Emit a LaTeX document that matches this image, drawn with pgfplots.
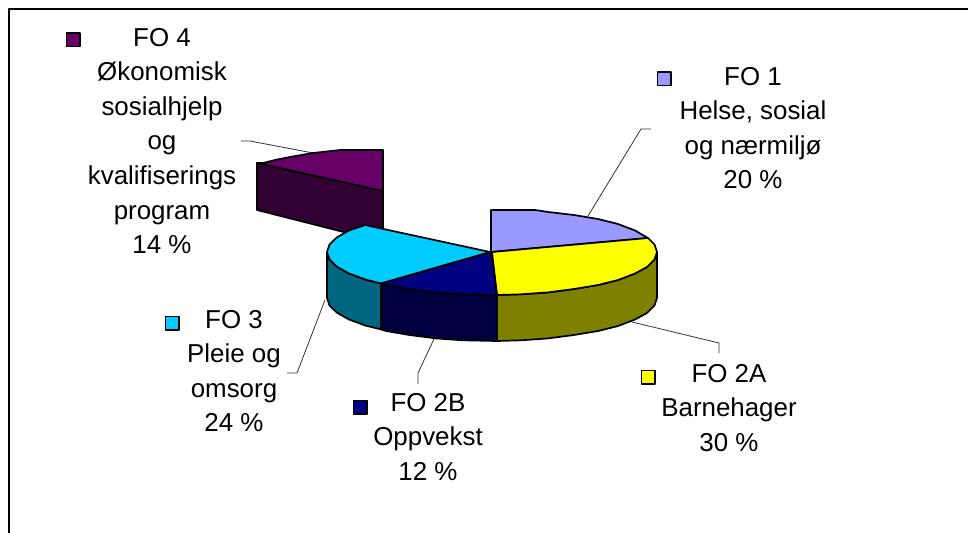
\documentclass[border=0pt]{standalone}
\usepackage{fontspec}
\setmainfont{Liberation Sans}
\usepackage{pgfplots}
\pgfplotsset{compat=1.18}
\definecolor{pblue}{HTML}{9999FF}
\definecolor{pyellow}{HTML}{FFFF00}
\definecolor{polive}{HTML}{808000}
\definecolor{pnavy}{HTML}{000080}
\definecolor{pdnavy}{HTML}{000040}
\definecolor{pcyan}{HTML}{00CCFF}
\definecolor{pteal}{HTML}{006680}
\definecolor{ppurple}{HTML}{660066}
\definecolor{pdpurple}{HTML}{330033}
\begin{document}
\begin{tikzpicture}
\useasboundingbox (0,0) rectangle (968bp,533bp);
\begin{axis}[
  at={(0,0)}, anchor=south west,
  width=968bp, height=533bp, scale only axis,
  xmin=0, xmax=968, ymin=0, ymax=533, y dir=reverse,
  axis lines=none, clip=true,
  every axis plot/.append style={line join=round},
]
% frame
\addplot[black, line width=1.8bp] coordinates {(9,533) (9,9) (968,9)};
% leader lines
\addplot[black!80, line width=0.8bp] coordinates {(588,216) (641,129) (651,129)};
\addplot[black!80, line width=0.8bp] coordinates {(632,322) (719,343) (719,353)};
\addplot[black!80, line width=0.8bp] coordinates {(434,339) (418,373) (418,384)};
\addplot[black!80, line width=0.8bp] coordinates {(325,300) (297,373) (287,373)};
\addplot[black!80, line width=0.8bp] coordinates {(241,141) (250,141) (313,153)};
% FO 4 exploded slice
\addplot[draw=black, line width=1.7bp, fill=pdpurple] coordinates {(383,191) (257,163) (257,210) (383,242) (383,191)};
\addplot[draw=black, line width=1.7bp, fill=ppurple] coordinates {(383,191) (257,163) (263,163) (275,160) (290,157) (313,153) (340,150) (383,150) (383,191)};
% side walls
\addplot[draw=black, line width=1.7bp, fill=pteal] coordinates {(327,252) (329.5,259.5) (337,266.7) (349,273.5) (365.6,279.6) (381,283.4) (381,329.4) (365.6,325.6) (349,319.5) (337,312.7) (329.5,305.5) (327,298) (327,252)};
\addplot[draw=black, line width=1.7bp, fill=pdnavy] coordinates {(381,283.4) (386,285) (409.5,289) (436,292.4) (463,294.3) (497,295) (497,341) (463,340.3) (436,338.4) (409.5,335) (386,331) (381,329.4) (381,283.4)};
\addplot[draw=black, line width=1.7bp, fill=polive] coordinates {(497,295) (521,294.3) (548,292.4) (574,289) (598,285) (618,280) (635,273.5) (647,267) (654.5,259.5) (657,252) (657,298) (654.5,305.5) (647,313) (635,319.5) (618,326) (598,331) (574,335) (548,338.4) (521,340.3) (497,341) (497,295)};
% top faces
\addplot[draw=black, line width=1.7bp, fill=pblue] coordinates {(491,252) (491,210) (535,210) (548,212) (574,215) (598,219) (618,224) (635,230.5) (648,238) (491,252)};
\addplot[draw=black, line width=1.7bp, fill=pyellow] coordinates {(492,252) (648,238) (654.5,244.5) (657,252) (654.5,259.5) (647,267) (635,273.5) (618,280) (598,285) (574,289) (548,292.4) (521,294.3) (497,295) (492,252)};
\addplot[draw=black, line width=1.7bp, fill=pnavy] coordinates {(491,252) (497,295) (463,294.3) (436,292.4) (409.5,289) (386,285) (381,283.4) (491,252)};
\addplot[draw=black, line width=1.7bp, fill=pcyan] coordinates {(490,252) (381,283.4) (365.6,279.6) (349,273.5) (337,266.7) (329.5,259.5) (327,252) (329.5,244.5) (337,237.3) (349,230.5) (365,225) (490,252)};
% legend keys
\addplot[only marks, mark=square*, mark size=6.8bp, mark options={fill=ppurple, draw=black, line width=1.4bp}] coordinates {(73,40)};
\addplot[only marks, mark=square*, mark size=6.8bp, mark options={fill=pblue, draw=black, line width=1.4bp}] coordinates {(664,79)};
\addplot[only marks, mark=square*, mark size=6.8bp, mark options={fill=pyellow, draw=black, line width=1.4bp}] coordinates {(648,377)};
\addplot[only marks, mark=square*, mark size=6.8bp, mark options={fill=pnavy, draw=black, line width=1.4bp}] coordinates {(360,407)};
\addplot[only marks, mark=square*, mark size=6.8bp, mark options={fill=pcyan, draw=black, line width=1.4bp}] coordinates {(172,323)};
% labels
\tikzset{lab/.style={align=center, inner sep=0pt, text=black, font=\fontsize{26}{34.7}\selectfont}}
\node[lab] at (axis cs:162,141) {FO 4\\Økonomisk\\sosialhjelp\\og\\kvalifiserings\\program\\14 \%};
\node[lab] at (axis cs:753,128) {FO 1\\Helse, sosial\\og nærmiljø\\20 \%};
\node[lab] at (axis cs:729,408) {FO 2A\\Barnehager\\30 \%};
\node[lab] at (axis cs:428,437) {FO 2B\\Oppvekst\\12 \%};
\node[lab] at (axis cs:234,371) {FO 3\\Pleie og\\omsorg\\24 \%};
\end{axis}
\end{tikzpicture}
\end{document}
